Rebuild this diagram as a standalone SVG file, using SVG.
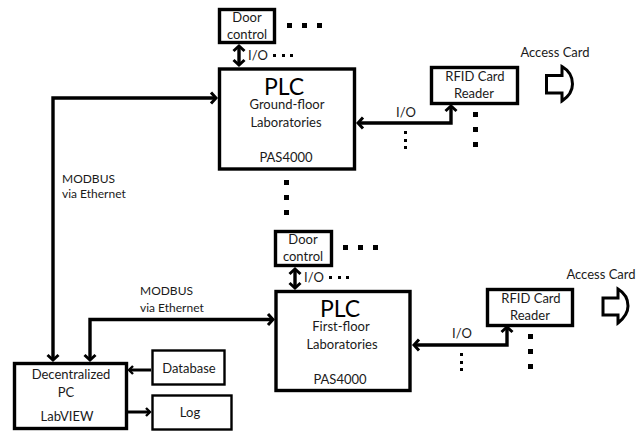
<svg xmlns="http://www.w3.org/2000/svg" width="640" height="432" viewBox="0 0 640 432">
<defs>
<marker id="h" markerUnits="userSpaceOnUse" markerWidth="14" markerHeight="16" refX="9" refY="8" orient="auto-start-reverse"><path d="M4 2.500 L9 8 L4 13.500" fill="none" stroke="#000" stroke-width="3"/></marker>
<marker id="s" markerUnits="userSpaceOnUse" markerWidth="12" markerHeight="14" refX="8" refY="7" orient="auto-start-reverse"><path d="M4 3 L8 7 L4 11" fill="none" stroke="#000" stroke-width="2.400"/></marker>
</defs>
<style>
text{font-family:Lato,"Open Sans","Liberation Sans",sans-serif;fill:#1a1a1a;font-size:13px;text-anchor:middle}
.b{fill:#fff;stroke:#000;stroke-width:3.400}
.t{fill:#fff;stroke:#000;stroke-width:2.400}
.c{fill:none;stroke:#000;stroke-width:3.400}
.k{fill:none;stroke:#000;stroke-width:3}
.plc{font-size:23px;fill:#000}
.l{text-anchor:start}
</style>
<rect width="640" height="432" fill="#fff"/>
<g id="connectors">
<path class="c" d="M53 360V98H216" marker-start="url(#h)" marker-end="url(#h)"/>
<path class="c" d="M90 360V319.500H273" marker-start="url(#h)" marker-end="url(#h)"/>
<path class="c" d="M358 123H451V106" marker-start="url(#h)" marker-end="url(#h)"/>
<path class="c" d="M414 345H507V327" marker-start="url(#h)" marker-end="url(#h)"/>
<path class="c" d="M239 46V65" marker-start="url(#h)" marker-end="url(#h)"/>
<path class="c" d="M295 269V288" marker-start="url(#h)" marker-end="url(#h)"/>
<path class="k" d="M151 370H129" marker-end="url(#s)"/>
<path class="k" d="M128 412H150" marker-end="url(#s)"/>
</g>
<g id="door-control-1"><rect class="b" x="219.500" y="9.500" width="55" height="33"/><text x="247" y="22">Door</text><text x="247" y="39">control</text></g>
<g id="door-control-2"><rect class="b" x="275.500" y="231.500" width="56" height="34"/><text x="303" y="244">Door</text><text x="303" y="261">control</text></g>
<g id="plc-ground"><rect class="b" x="219.500" y="69" width="135" height="100"/><text class="plc" x="284" y="95">PLC</text><text x="287" y="109">Ground-floor</text><text x="286" y="127">Laboratories</text><text x="286" y="162">PAS4000</text></g>
<g id="plc-first"><rect class="b" x="276" y="291.500" width="134" height="99"/><text class="plc" x="340" y="317">PLC</text><text x="341" y="331">First-floor</text><text x="342" y="349">Laboratories</text><text x="340" y="384">PAS4000</text></g>
<g id="rfid-1"><rect class="b" x="431.500" y="67.500" width="86" height="36"/><text x="475" y="81">RFID Card</text><text x="474" y="98">Reader</text></g>
<g id="rfid-2"><rect class="b" x="487.500" y="289.500" width="85" height="36"/><text x="531" y="303">RFID Card</text><text x="530" y="320">Reader</text></g>
<g id="access-card-1"><text x="555" y="57">Access Card</text><path class="k" d="M546.500 75.500H562V66.500C568 70 572.500 76 572.500 84S568 97 562 101V93H546.500Z"/></g>
<g id="access-card-2"><text x="601" y="279">Access Card</text><path class="k" d="M603 298H618V289C623 292 628 298 628 306S623 319 618 323V315H603Z"/></g>
<g id="pc"><rect class="b" x="14.500" y="363.500" width="112" height="65"/><text x="71" y="379">Decentralized</text><text x="66" y="397">PC</text><text x="67" y="421">LabVIEW</text></g>
<g id="database"><rect class="t" x="152.500" y="350.500" width="72" height="34"/><text x="189" y="373">Database</text></g>
<g id="log"><rect class="t" x="152.500" y="395.500" width="79" height="34"/><text x="190" y="417">Log</text></g>
<g id="labels">
<text class="l" x="62" y="183" style="font-size:12px">MODBUS</text><text class="l" x="62" y="198" style="font-size:12px">via Ethernet</text>
<text class="l" x="140" y="295" style="font-size:12px">MODBUS</text><text class="l" x="140" y="312" style="font-size:12px">via Ethernet</text>
<text x="258" y="60">I/O</text><text x="314" y="282">I/O</text>
<text x="406" y="117">I/O</text><text x="462" y="338">I/O</text>
</g>
<g id="dots" fill="#000">
<rect x="287" y="23" width="5" height="5"/><rect x="302" y="23" width="5" height="5"/><rect x="317" y="23" width="5" height="5"/>
<rect x="343" y="245" width="5" height="5"/><rect x="358" y="245" width="5" height="5"/><rect x="373" y="245" width="5" height="5"/>
<rect x="473" y="112" width="5" height="5"/><rect x="473" y="127" width="5" height="5"/><rect x="473" y="142" width="5" height="5"/>
<rect x="528" y="334" width="5" height="5"/><rect x="528" y="349" width="5" height="5"/><rect x="528" y="364" width="5" height="5"/>
<rect x="284" y="180" width="5" height="5"/><rect x="284" y="195" width="5" height="5"/><rect x="284" y="210" width="5" height="5"/>
<rect x="273" y="54" width="3" height="3"/><rect x="282" y="54" width="3" height="3"/><rect x="290" y="54" width="3" height="3"/>
<rect x="329" y="276" width="3" height="3"/><rect x="338" y="276" width="3" height="3"/><rect x="346" y="276" width="3" height="3"/>
<rect x="404" y="131" width="3" height="3"/><rect x="404" y="139" width="3" height="3"/><rect x="404" y="146" width="3" height="3"/>
<rect x="460" y="353" width="3" height="3"/><rect x="460" y="361" width="3" height="3"/><rect x="460" y="368" width="3" height="3"/>
</g>
</svg>
